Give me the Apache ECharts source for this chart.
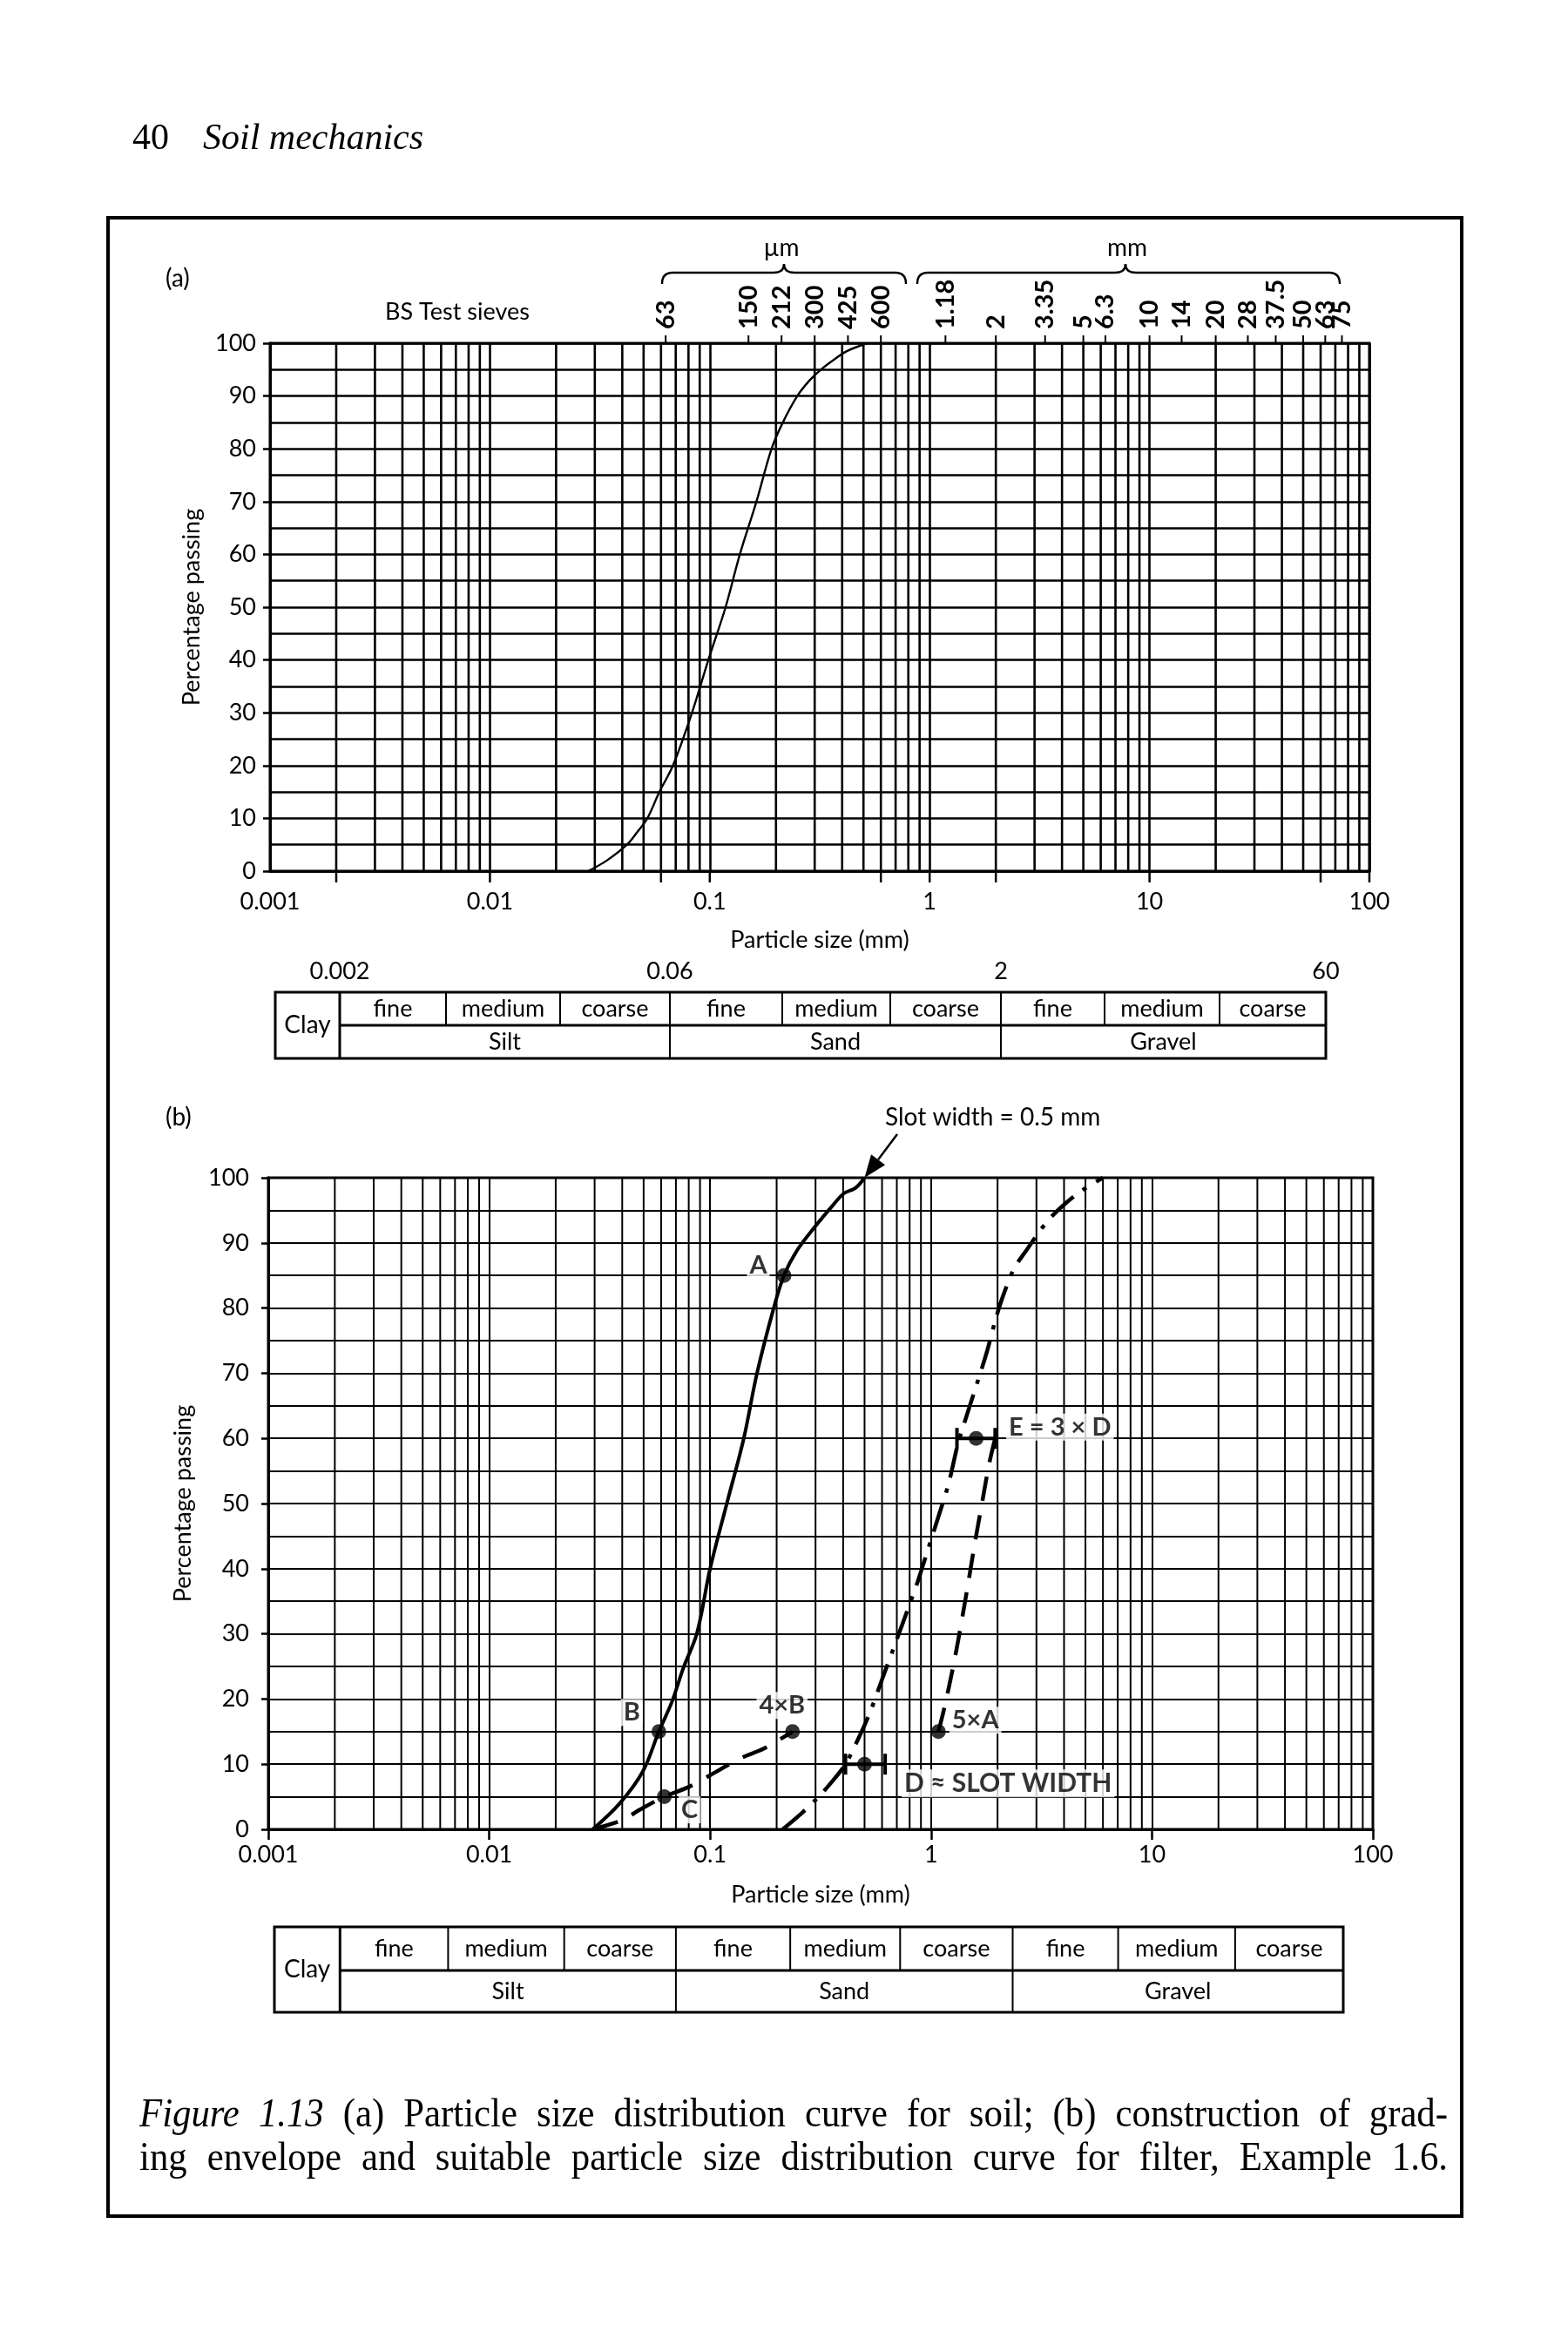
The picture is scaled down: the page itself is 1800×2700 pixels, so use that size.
<!DOCTYPE html>
<html><head><meta charset="utf-8">
<script src="https://cdn.jsdelivr.net/npm/echarts@6/dist/echarts.min.js"></script>
<style>html,body{margin:0;padding:0;background:#fff}#c{width:1800px;height:2700px}</style>
</head><body><div id="c"></div>
<script>
// ---------------- DATA ----------------
const xTickLabels = ['0.001', '0.01', '0.1', '1', '10', '100'];
const sieveSizes = [0.063, 0.15, 0.212, 0.3, 0.425, 0.6, 1.18, 2, 3.35, 5, 6.3, 10, 14, 20, 28, 37.5, 50, 63, 75];
const sieveLabels = ['63', '150', '212', '300', '425', '600', '1.18', '2', '3.35', '5', '6.3', '10', '14', '20', '28', '37.5', '50', '63', '75'];
const classTickA = [0.002, 0.01, 0.06, 0.1, 0.6, 1, 2, 10, 60, 100];
const classNums = ['0.002', '0.06', '2', '60'];
const classSub = ['fine', 'medium', 'coarse'];
const classMain = ['Silt', 'Sand', 'Gravel'];

// (a) soil curve
const soilAX = [0.028, 0.034, 0.042, 0.047, 0.052, 0.059, 0.068, 0.083, 0.0985, 0.118, 0.137, 0.163, 0.191, 0.215, 0.25, 0.285, 0.32, 0.37, 0.42, 0.52];
const soilAY = [0, 2, 5, 7.5, 10, 15, 20, 30, 40, 50, 60, 70, 80, 85, 90, 93, 95, 97, 98.5, 100];
// (b) soil curve (solid)
const soilBX = [0.0294, 0.039, 0.0496, 0.0586, 0.0672, 0.0759, 0.087, 0.1, 0.119, 0.142, 0.163, 0.194, 0.216, 0.248, 0.297, 0.356, 0.403, 0.454, 0.5];
const soilBY = [0, 4, 8.9, 15, 19.6, 24.9, 30, 40, 50, 60, 70, 80, 85, 88.9, 92.4, 95.6, 97.6, 98.4, 100];
// (b) dashed line through C to 4xB
const lineCX = [0.0294, 0.04, 0.048, 0.062, 0.08, 0.1, 0.137, 0.175, 0.236];
const lineCY = [0, 1.4, 3, 5, 6.5, 8.3, 10.9, 12.4, 15];
// (b) dash-dot filter curve
const filterX = [0.213, 0.26, 0.31, 0.36, 0.41, 0.47, 0.53, 0.6, 0.68, 0.77, 0.87, 0.97, 1.08, 1.2, 1.32, 1.45, 1.6, 1.78, 1.95, 2.1, 2.37, 2.72, 3.1, 3.55, 4.1, 4.8, 6.0];
const filterY = [0, 2.5, 5, 7.5, 10, 14, 18, 23, 28, 33, 38, 43, 48, 53, 59, 63.5, 68, 73, 78, 81.5, 86, 89, 91.8, 94.2, 96.2, 98, 100];
// (b) long-dash envelope from 5xA
const envAX = [1.08, 1.15, 1.26, 1.36, 1.46, 1.58, 1.70, 1.83, 1.95];
const envAY = [15, 18.7, 25, 31, 37, 44, 50, 56, 60];
// (b) marked points
const pointLabels = ['A', 'B', 'C', '4×B', 'D ≈ SLOT WIDTH', '5×A', 'E = 3 × D'];
const pointX = [0.216, 0.0586, 0.062, 0.236, 0.5, 1.08, 1.6];
const pointY = [85, 15, 5, 15, 10, 15, 60];
// (b) range bars at D and E
const barY = [10, 60];
const barLo = [0.41, 1.31];
const barHi = [0.62, 1.95];
const slotWidth = 0.5;

const captionLine1 = 'Figure 1.13 (a) Particle size distribution curve for soil; (b) construction of grad-';
const captionLine2 = 'ing envelope and suitable particle size distribution curve for filter, Example 1.6.';

// ---------------- CHART ----------------
const SANS = 'Lato, "Noto Sans", sans-serif';
const SERIF = '"Liberation Serif", "DejaVu Serif", serif';
const zip = (xs, ys) => xs.map((x, i) => [x, ys[i]]);

const minorVals = [];
for (let d = -3; d <= 1; d++) for (let k = 2; k <= 9; k++) minorVals.push(+(k * Math.pow(10, d)).toPrecision(3));

function xAx(g, margin, ticks, gap, lw) {
  return {
    type: 'log', gridIndex: g, min: 0.001, max: 100, logBase: 10, splitNumber: 5,
    axisLine: { show: true, onZero: false, lineStyle: { color: '#000', width: 3 } },
    axisTick: { show: ticks, length: 12, lineStyle: { color: '#000', width: 2.5 } },
    axisLabel: { margin: margin, color: '#000', fontSize: 27, fontFamily: SANS,
      formatter: v => xTickLabels[Math.round(Math.log10(v)) + 3] },
    splitLine: { show: true, lineStyle: { color: '#000', width: lw } },
    name: 'Particle size (mm)', nameLocation: 'middle', nameGap: gap,
    nameTextStyle: { color: '#000', fontSize: 27, fontFamily: SANS }
  };
}
function yAx(g, margin, gap, lw) {
  return {
    type: 'value', gridIndex: g, min: 0, max: 100, interval: 10,
    axisLine: { show: true, lineStyle: { color: '#000', width: 3 } },
    axisTick: { show: true, length: 8, lineStyle: { color: '#000', width: 2.5 } },
    axisLabel: { margin: margin, color: '#000', fontSize: 27, fontFamily: SANS },
    splitLine: { show: true, lineStyle: { color: '#000', width: lw } },
    minorTick: { show: false, splitNumber: 2 },
    minorSplitLine: { show: true, lineStyle: { color: '#000', width: lw } },
    name: 'Percentage passing', nameLocation: 'middle', nameGap: gap, nameRotate: 90,
    nameTextStyle: { color: '#000', fontSize: 27, fontFamily: SANS }
  };
}
function vgrid(g, lw) {
  return {
    type: 'custom', xAxisIndex: g, yAxisIndex: g, silent: true, z: 1,
    data: minorVals.map(v => [v, 0]), encode: { x: 0, y: 1 },
    renderItem: (p, api) => {
      const a = api.coord([api.value(0), 0]), b = api.coord([api.value(0), 100]);
      return { type: 'line', shape: { x1: a[0], y1: a[1], x2: b[0], y2: b[1] }, style: { stroke: '#000', lineWidth: lw } };
    }
  };
}

const labelCfg = [
  { position: 'left', distance: 8, offset: [0, -12] },
  { position: 'left', distance: 10, offset: [0, -22] },
  { position: 'right', distance: 8, offset: [0, 15] },
  { position: 'top', distance: 6, offset: [-12, 0] },
  { position: 'right', distance: 34, offset: [0, 22] },
  { position: 'right', distance: 4, offset: [0, -13] },
  { position: 'right', distance: 26, offset: [0, -13] }
];

const chart = echarts.init(document.getElementById('c'), null, { width: 1800, height: 2700 });
const option = {
  animation: false,
  backgroundColor: '#fff',
  textStyle: { fontFamily: SANS },
  grid: [
    { left: 310, top: 394, width: 1262, height: 606, show: true, borderColor: '#000', borderWidth: 3 },
    { left: 308, top: 1352, width: 1268, height: 748, show: true, borderColor: '#000', borderWidth: 3 }
  ],
  xAxis: [xAx(0, 22, false, 66, 2.6), xAx(1, 16, true, 62, 2)],
  yAxis: [yAx(0, 16, 76, 2.6), yAx(1, 22, 84, 2)],
  series: [
    vgrid(0, 2.6), vgrid(1, 2),
    // class-boundary ticks under (a)
    { type: 'custom', xAxisIndex: 0, yAxisIndex: 0, silent: true, z: 5,
      data: classTickA.map(v => [v, 0]), encode: { x: 0, y: 1 },
      renderItem: (p, api) => {
        const c = api.coord([api.value(0), 0]);
        return { type: 'line', shape: { x1: c[0], y1: c[1], x2: c[0], y2: c[1] + 13 }, style: { stroke: '#000', lineWidth: 2.5 } };
      } },
    // BS sieve marks on top of (a)
    { type: 'custom', xAxisIndex: 0, yAxisIndex: 0, silent: true, z: 5,
      data: sieveSizes.map(s => [s, 100]), encode: { x: 0, y: 1 },
      renderItem: (p, api) => {
        const c = api.coord([api.value(0), 100]);
        return { type: 'group', children: [
          { type: 'line', shape: { x1: c[0], y1: c[1] - 1, x2: c[0], y2: c[1] - 9 }, style: { stroke: '#000', lineWidth: 2 } },
          { type: 'text', x: c[0], y: c[1] - 16, rotation: Math.PI / 2,
            style: { text: sieveLabels[p.dataIndex], font: 'bold 29px Lato', fill: '#000', textAlign: 'left', textVerticalAlign: 'middle' } }
        ] };
      } },
    { type: 'line', xAxisIndex: 0, yAxisIndex: 0, data: zip(soilAX, soilAY), smooth: 0.35, symbol: 'none', z: 4,
      lineStyle: { color: '#000', width: 2.4 } },
    { type: 'line', xAxisIndex: 1, yAxisIndex: 1, data: zip(soilBX, soilBY), smooth: 0.35, symbol: 'none', z: 4,
      lineStyle: { color: '#000', width: 4 } },
    { type: 'line', xAxisIndex: 1, yAxisIndex: 1, data: zip(lineCX, lineCY), smooth: 0.3, symbol: 'none', z: 4,
      lineStyle: { color: '#000', width: 4.5, type: [30, 18], cap: 'butt' } },
    { type: 'line', xAxisIndex: 1, yAxisIndex: 1, data: zip(filterX, filterY), smooth: 0.3, symbol: 'none', z: 4,
      lineStyle: { color: '#000', width: 4.5, type: [34, 13, 5, 13], cap: 'butt' } },
    { type: 'line', xAxisIndex: 1, yAxisIndex: 1, data: zip(envAX, envAY), smooth: 0.3, symbol: 'none', z: 4,
      lineStyle: { color: '#000', width: 4.5, type: [28, 17], cap: 'butt' } },
    // range bars at D and E
    { type: 'custom', xAxisIndex: 1, yAxisIndex: 1, silent: true, z: 5,
      data: barY.map((y, i) => [barLo[i], barHi[i], y]), encode: { x: [0, 1], y: 2 },
      renderItem: (p, api) => {
        const a = api.coord([api.value(0), api.value(2)]), b = api.coord([api.value(1), api.value(2)]);
        const st = { stroke: '#000', lineWidth: 4 };
        return { type: 'group', children: [
          { type: 'line', shape: { x1: a[0], y1: a[1], x2: b[0], y2: b[1] }, style: st },
          { type: 'line', shape: { x1: a[0], y1: a[1] - 12, x2: a[0], y2: a[1] + 12 }, style: st },
          { type: 'line', shape: { x1: b[0], y1: b[1] - 12, x2: b[0], y2: b[1] + 12 }, style: st }
        ] };
      } },
    { type: 'scatter', xAxisIndex: 1, yAxisIndex: 1, symbol: 'circle', symbolSize: 17, z: 6,
      itemStyle: { color: '#000' },
      data: pointX.map((x, i) => ({
        value: [x, pointY[i]],
        label: Object.assign({ show: true, formatter: pointLabels[i], color: '#000', fontSize: i === 4 ? 30 : 29,
          fontWeight: 'bold', fontFamily: SANS, backgroundColor: '#fff', padding: [1, 3] }, labelCfg[i])
      })) }
  ]
};
chart.setOption(option);

// ---------------- ANNOTATIONS ----------------
const G = [];
const T = (text, x, y, font, align, valign, sx) => G.push({ type: 'text', x: x, y: y, z: 50, scaleX: sx || 1,
  style: { text: text, font: font, fill: '#000', textAlign: align || 'center', textVerticalAlign: valign || 'middle' } });
const L = (x1, y1, x2, y2, w) => G.push({ type: 'line', z: 50, shape: { x1, y1, x2, y2 }, style: { stroke: '#000', lineWidth: w } });
const Q = (x1, y1, cx, cy, x2, y2, w) => G.push({ type: 'bezierCurve', z: 50,
  shape: { x1, y1, x2, y2, cpx1: cx, cpy1: cy }, style: { stroke: '#000', lineWidth: w, fill: 'none' } });

// outer frame
G.push({ type: 'rect', z: 50, shape: { x: 124, y: 250, width: 1554, height: 2294 }, style: { fill: 'none', stroke: '#000', lineWidth: 4 } });
// header
T('40', 152, 160, '42px ' + SERIF, 'left');
T('Soil mechanics', 233, 160, 'italic 42px ' + SERIF, 'left');
// panel labels
T('(a)', 190, 320, '28px ' + SANS, 'left');
T('(b)', 190, 1283, '28px ' + SANS, 'left');
T('BS Test sieves', 525, 358, '27px ' + SANS);
// braces
function brace(x1, x2, yTop, yMid, yBot, xc) {
  const r = 12, w = 2.4;
  Q(x1, yBot, x1, yMid, x1 + r, yMid, w);
  L(x1 + r, yMid, xc - r, yMid, w);
  Q(xc - r, yMid, xc, yMid, xc, yTop, w);
  Q(xc, yTop, xc, yMid, xc + r, yMid, w);
  L(xc + r, yMid, x2 - r, yMid, w);
  Q(x2 - r, yMid, x2, yMid, x2, yBot, w);
}
brace(760, 1040, 303, 313, 326, 900);
brace(1053, 1538, 303, 313, 326, 1292);
T('µm', 897, 285, '28px ' + SANS);
T('mm', 1294, 285, '28px ' + SANS);

// tables
function table(xs, y0, y1, y2, fs) {
  const l = xs[0], r = xs[xs.length - 1];
  G.push({ type: 'rect', z: 50, shape: { x: l, y: y0, width: r - l, height: y2 - y0 }, style: { fill: 'none', stroke: '#000', lineWidth: 3 } });
  L(xs[1], y0, xs[1], y2, 3);
  L(xs[1], y1, r, y1, 3);
  [4, 7].forEach(i => L(xs[i], y0, xs[i], y2, 2));
  [2, 3, 5, 6, 8, 9].forEach(i => L(xs[i], y0, xs[i], y1, 2));
  T('Clay', (xs[0] + xs[1]) / 2, (y0 + y2) / 2, (fs + 1) + 'px ' + SANS);
  for (let i = 1; i <= 9; i++) T(classSub[(i - 1) % 3], (xs[i] + xs[i + 1]) / 2, (y0 + y1) / 2, fs + 'px ' + SANS);
  for (let j = 0; j < 3; j++) T(classMain[j], (xs[1 + 3 * j] + xs[4 + 3 * j]) / 2, (y1 + y2) / 2, fs + 'px ' + SANS);
}
const tabA = [316, 390, 512, 643, 769, 898, 1022, 1149, 1268, 1400, 1522];
table(tabA, 1139, 1177, 1215, 27);
[1, 4, 7, 10].forEach((k, j) => T(classNums[j], tabA[k], 1115, '27px ' + SANS));
const sB = (1542 - 315) / (1522 - 316);
table(tabA.map(x => 315 + (x - 316) * sB), 2212, 2262, 2310, 27);

// slot width arrow
const tip = chart.convertToPixel({ gridIndex: 1 }, [slotWidth, 100]);
T('Slot width = 0.5 mm', 1016, 1283, '28px ' + SANS, 'left');
(function () {
  const sx = 1030, sy = 1302;
  const dx = tip[0] - sx, dy = tip[1] - sy, len = Math.hypot(dx, dy);
  const ux = dx / len, uy = dy / len, nx = -uy, ny = ux, H = 26, W = 10;
  const bx = tip[0] - ux * H, by = tip[1] - uy * H;
  L(sx, sy, bx, by, 2.5);
  G.push({ type: 'polygon', z: 50, shape: { points: [[tip[0], tip[1]], [bx + nx * W, by + ny * W], [bx - nx * W, by - ny * W]] }, style: { fill: '#000' } });
})();

// caption (justified, slightly condensed)
(function () {
  const ctx = document.createElement('canvas').getContext('2d');
  const fs = 46, sx = 0.93, left = 160, right = 1662;
  const lines = [
    captionLine1.split(' ').map((w, i) => [w, i < 2]),
    captionLine2.split(' ').map(w => [w, false])
  ];
  const ys = [2429, 2479];
  lines.forEach((words, li) => {
    const fonts = words.map(w => (w[1] ? 'italic ' : '') + fs + 'px ' + SERIF);
    const widths = words.map((w, i) => { ctx.font = fonts[i]; return ctx.measureText(w[0]).width * sx; });
    const total = widths.reduce((a, b) => a + b, 0);
    const gap = (right - left - total) / (words.length - 1);
    let x = left;
    words.forEach((w, i) => { T(w[0], x, ys[li], fonts[i], 'left', 'middle', sx); x += widths[i] + gap; });
  });
})();

chart.setOption({ graphic: { elements: G } });
</script></body></html>
